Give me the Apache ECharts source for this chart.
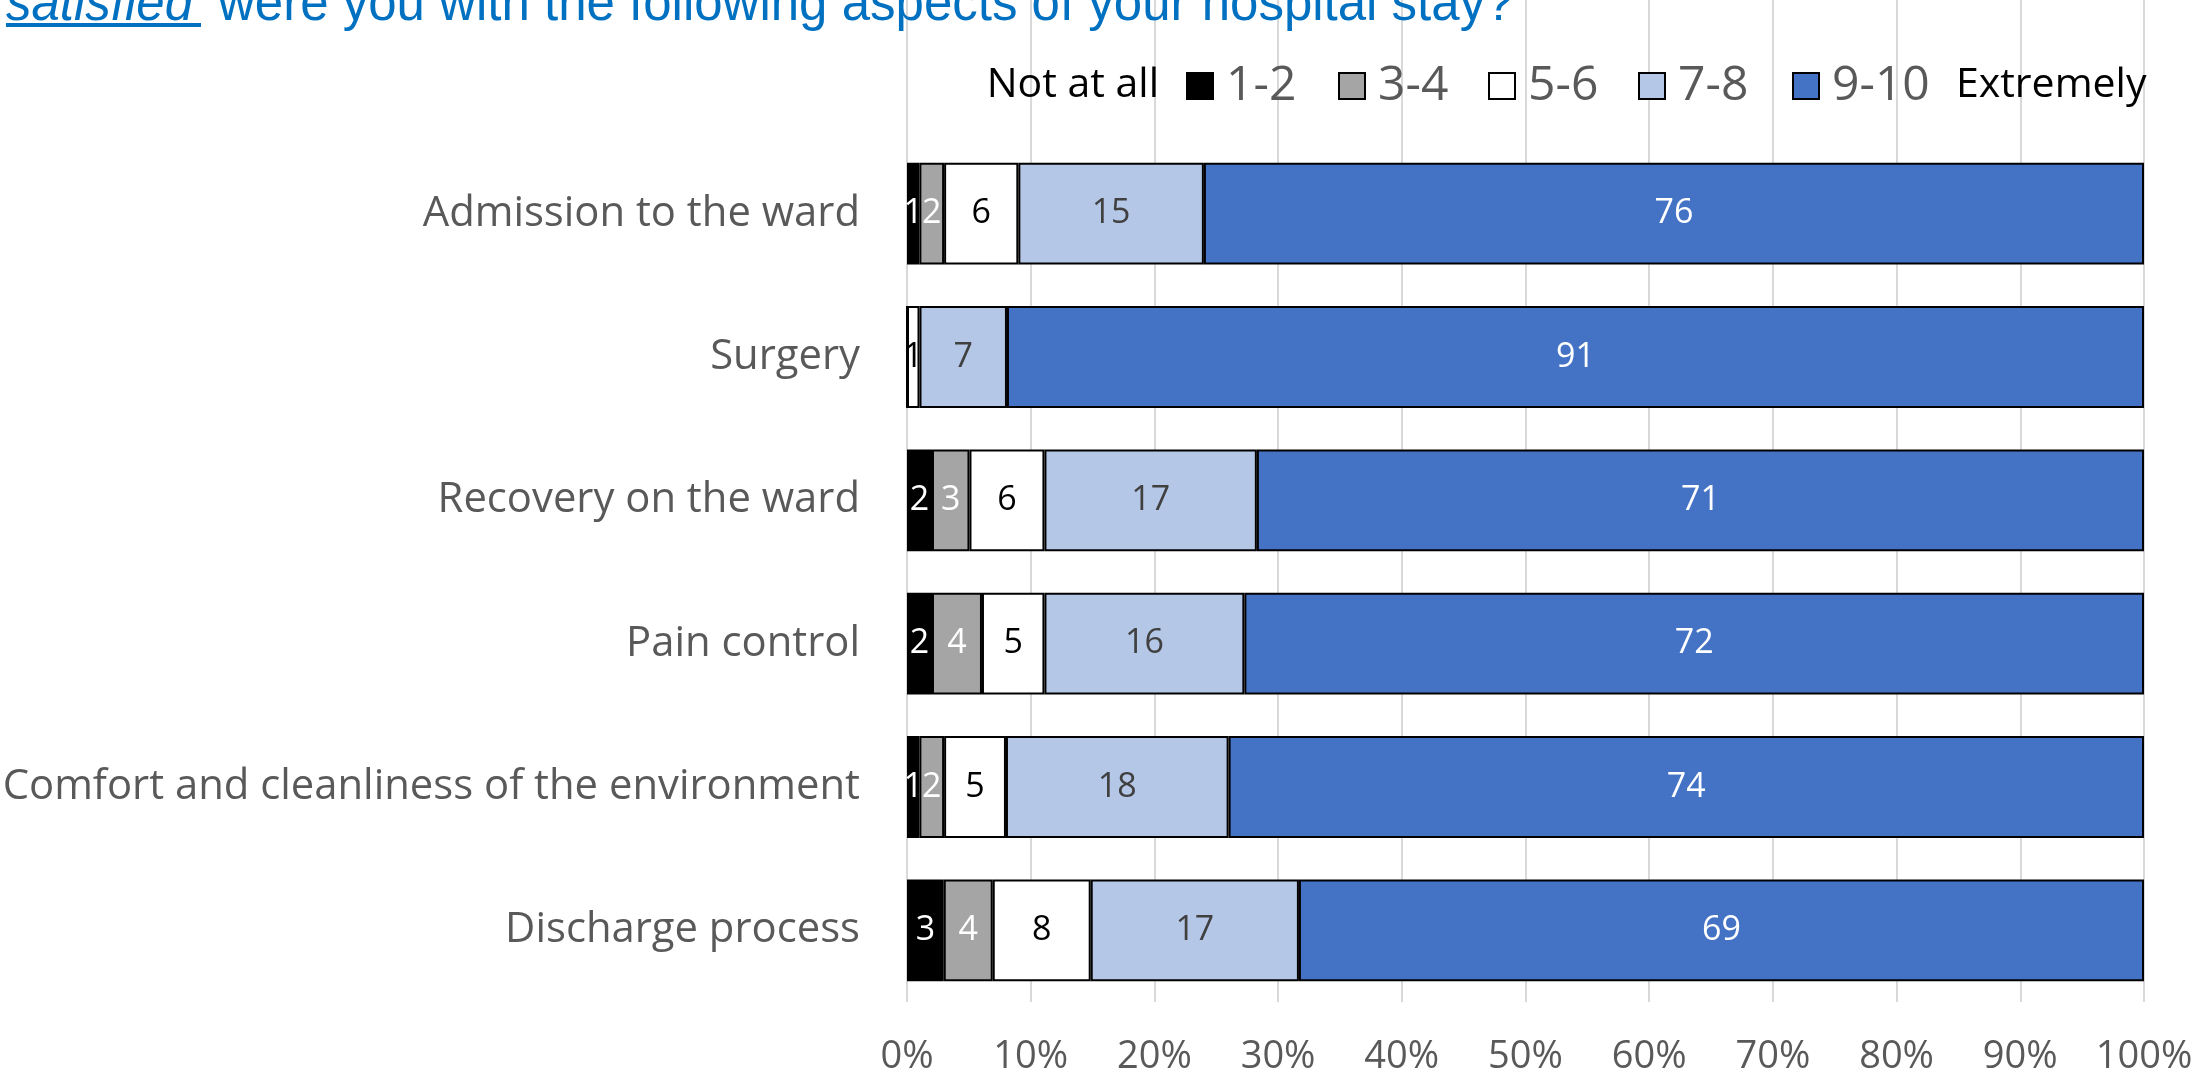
<!DOCTYPE html>
<html>
<head>
    <meta charset="utf-8">
    <title>Hospital stay satisfaction</title>
    <script src="https://cdn.jsdelivr.net/npm/echarts@6/dist/echarts.min.js"></script>
    <style type="text/css">
        html, body { margin: 0; padding: 0; background: #fff; }
        #main { width: 2195px; height: 1074px; }
    </style>
</head>
<body>
<div id="main"></div>
<script type="text/javascript">
    // data (raw values shown as labels, bars normalised to 100%)
    var categories = ['Admission to the ward', 'Surgery', 'Recovery on the ward', 'Pain control',
        'Comfort and cleanliness of the environment', 'Discharge process'];
    var seriesNames = ['1-2', '3-4', '5-6', '7-8', '9-10'];
    var score12 = [1, 0, 2, 2, 1, 3];
    var score34 = [2, 0, 3, 4, 2, 4];
    var score56 = [6, 1, 6, 5, 5, 8];
    var score78 = [15, 7, 17, 16, 18, 17];
    var score910 = [76, 91, 71, 72, 74, 69];

    var allScores = [score12, score34, score56, score78, score910];
    var colors = ['#000000', '#A5A5A5', '#FFFFFF', '#B4C7E7', '#4472C4'];
    var labelColors = ['#FFFFFF', '#FFFFFF', '#000000', '#404040', '#FFFFFF'];
    var legendLefts = [1186, 1338, 1488, 1638, 1792];

    var totals = categories.map(function (c, i) {
        var s = 0;
        for (var k = 0; k < allScores.length; k++) s += allScores[k][i];
        return s;
    });

    var FONT = '"Open Sans", sans-serif';
    var L = 907, R = 2195 - 2144, B = 1074 - 1002;

    var series = seriesNames.map(function (name, k) {
        return {
            name: name,
            type: 'bar',
            stack: 'total',
            xAxisIndex: 1,
            yAxisIndex: 1,
            barCategoryGap: '29%',
            itemStyle: { color: colors[k], borderColor: '#000', borderWidth: 2 },
            label: {
                show: true,
                position: 'inside',
                color: labelColors[k],
                fontFamily: FONT,
                fontSize: 34,
                padding: [14, 0, 0, 0],
                formatter: function (p) { return p.data.raw ? String(p.data.raw) : ''; }
            },
            data: allScores[k].map(function (v, i) {
                return { value: v / totals[i] * 100, raw: v };
            })
        };
    });

    var legends = seriesNames.map(function (name, k) {
        return {
            data: [name],
            left: legendLefts[k],
            top: 62,
            padding: 0,
            icon: 'rect',
            itemWidth: 26,
            itemHeight: 26,
            itemStyle: { borderColor: '#000', borderWidth: 2 },
            selectedMode: false,
            textStyle: { color: '#595959', fontFamily: FONT, fontSize: 48, padding: [0, 0, 0, 8] }
        };
    });

    var myChart = echarts.init(document.getElementById('main'));
    myChart.setOption({
        backgroundColor: '#fff',
        animation: false,
        legend: legends,
        grid: [
            { left: L, right: R, top: 0, bottom: B, outerBoundsMode: 'none' },
            { left: L, right: R, top: 142, bottom: B, outerBoundsMode: 'none' }
        ],
        xAxis: [{
            gridIndex: 0, type: 'value', min: 0, max: 100, interval: 10,
            axisLine: { show: false }, axisTick: { show: false },
            splitLine: { show: true, lineStyle: { color: '#D9D9D9', width: 2 } },
            axisLabel: {
                color: '#595959', fontFamily: FONT, fontSize: 38, margin: 36,
                formatter: function (v) { return v + '%'; }
            }
        }, {
            gridIndex: 1, type: 'value', min: 0, max: 100, show: false
        }],
        yAxis: [{
            gridIndex: 0, type: 'value', show: false
        }, {
            gridIndex: 1, type: 'category', inverse: true, data: categories,
            axisLine: { show: false }, axisTick: { show: false },
            axisLabel: { color: '#595959', fontFamily: FONT, fontSize: 41.8, margin: 47, padding: [12, 0, 0, 0] }
        }],
        graphic: [
            {
                type: 'text', left: 6, top: -20, z: 100,
                style: { text: 'satisfied', fill: '#0070C0', font: 'italic 51px "Liberation Sans", Arial, sans-serif' }
            },
            {
                type: 'rect', z: 100,
                shape: { x: 6, y: 23, width: 195, height: 4 },
                style: { fill: '#0070C0' }
            },
            {
                type: 'text', left: 218, top: -20, z: 100,
                style: { text: 'were you with the following aspects of your hospital stay?', fill: '#0070C0',
                    font: '51px "Liberation Sans", Arial, sans-serif' }
            },
            {
                type: 'text', right: 2195 - 1159, top: 65, z: 100,
                style: { text: 'Not at all', fill: '#000', font: '41px "Open Sans", sans-serif' }
            },
            {
                type: 'text', left: 1956, top: 65, z: 100,
                style: { text: 'Extremely', fill: '#000', font: '41px "Open Sans", sans-serif' }
            }
        ],
        series: series
    });
</script>
</body>
</html>
